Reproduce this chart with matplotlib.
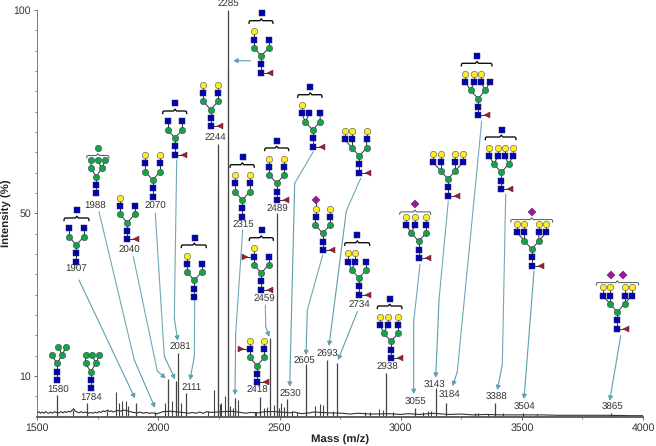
import matplotlib
matplotlib.use("Agg")
import matplotlib.pyplot as plt
from matplotlib.patches import FancyArrowPatch

plt.rcParams['font.family'] = ['Liberation Sans', 'DejaVu Sans']
plt.rcParams['text.hinting'] = 'none'

# labelled peaks
peak_mass = [1581, 1704, 1907, 1985, 2039, 2071, 2081, 2112, 2245, 2287, 2318, 2419, 2459, 2489,
             2531, 2607, 2695, 2736, 2941, 3057, 3145, 3186, 3391, 3504, 3866]
peak_int = [5.3, 3.3, 3.4, 1.2, 9.2, 8.7, 15.6, 5.8, 67, 100, 4.5, 4.7, 19.2, 50,
            4.3, 13, 13.8, 13.2, 10.6, 2.2, 7, 3.3, 3.4, 0.9, 0.9]

# isotope shoulders and the small unlabelled peaks
small_mass = [1648, 1786, 1823, 1837, 1849, 1865, 1874, 2026, 2056, 2093, 2204, 2230, 2246, 2253,
              2260, 2273, 2289, 2296, 2306, 2328, 2397, 2403, 2436, 2449, 2476, 2491, 2496, 2506,
              2520, 2551, 2571, 2647, 2667, 2680, 2719, 2852, 2873, 2909, 2925, 2967, 3091, 3112,
              3126, 3305, 3321, 3360, 3421, 3561]
small_int = [1.7, 1.4, 6.1, 3.3, 3.7, 3.8, 2.5, 3.4, 3.8, 3.4, 1.3, 6.5, 57, 3,
             3.3, 5.1, 86, 2.5, 2, 4, 1.2, 1.2, 2, 2.3, 2.8, 30, 2.2, 3.3,
             2.3, 1.3, 1.2, 2.5, 3, 2.8, 1.3, 1, 1, 1.8, 1.5, 1, 1.2, 1.3,
             1.4, 0.8, 0.8, 0.7, 0.9, 0.6]

# noisy baseline
base_mass = [1500, 1506, 1513, 1520, 1527, 1534, 1541, 1548, 1556, 1563, 1570, 1578, 1590, 1598,
             1606, 1613, 1621, 1629, 1637, 1644, 1650, 1657, 1665, 1673, 1681, 1690, 1698, 1712,
             1720, 1730, 1738, 1747, 1755, 1764, 1772, 1780, 1790, 1797, 1805, 1813, 1830, 1843,
             1856, 1870, 1885, 1895, 1915, 1925, 1938, 1950, 1962, 1975, 1995, 2010, 2020, 2050,
             2100, 2125, 2140, 2155, 2170, 2185, 2200, 2215, 2300, 2340, 2360, 2380, 2410, 2440,
             2480, 2545, 2560, 2590, 2625, 2640, 2700, 2760, 2790, 2820, 2880, 2950, 3000, 3030,
             3080, 3130, 3200, 3250, 3300, 3350, 3420, 3500, 3580, 3650, 3750, 3850, 3950, 4000]
base_int = [0.9, 1.2, 0.8, 1.1, 0.8, 1.2, 0.9, 0.8, 1.1, 0.8, 1.2, 1.0, 0.9, 1.2,
            0.9, 1.2, 1.0, 1.3, 1.1, 1.6, 1.9, 1.3, 1.1, 0.9, 1.2, 0.9, 1.1, 0.8,
            1.0, 0.8, 1.1, 0.9, 1.2, 1.0, 1.4, 1.2, 1.6, 1.2, 1.4, 1.1, 1.5, 1.3,
            1.6, 1.4, 1.2, 1.0, 0.9, 1.1, 0.8, 1.0, 0.8, 0.9, 0.7, 1.0, 1.2, 1.3,
            1.0, 0.8, 1.0, 0.8, 1.1, 0.8, 1.2, 1.0, 1.3, 1.0, 0.8, 1.0, 0.9, 1.2,
            1.2, 0.9, 1.1, 0.7, 0.9, 1.1, 0.9, 0.8, 0.6, 0.8, 0.6, 0.7, 0.5, 0.7,
            0.5, 0.8, 0.5, 0.6, 0.4, 0.5, 0.4, 0.4, 0.4, 0.3, 0.3, 0.3, 0.2, 0.2]

x_ticks = [1500, 2000, 2500, 3000, 3500, 4000]
y_ticks = [10, 50, 100]

# label text and where it sits in the picture
labels = [("1580", 58.3, 390.7), ("1784", 91, 398), ("1907", 76.3, 269.3), ("1988", 95.3, 206),
          ("2040", 129.3, 250.3), ("2070", 155, 206.3), ("2081", 180.3, 347.3), ("2111", 191.3, 387.7),
          ("2244", 215.7, 137), ("2285", 228, 4.7), ("2315", 243.3, 225), ("2418", 257.3, 390.3),
          ("2459", 264, 299.3), ("2489", 277.3, 209.3), ("2530", 290.7, 394), ("2605", 304.7, 361.3),
          ("2693", 327.5, 354.3), ("2734", 359.7, 305), ("2938", 387.3, 367.7), ("3055", 415, 402),
          ("3143", 434.7, 385.3), ("3184", 449.7, 395.7), ("3388", 496.3, 397.3), ("3504", 524, 407.7),
          ("3865", 612.3, 407.3)]

arrows = [[(79, 280), (135, 398.3)],
          [(99, 211.7), (134.3, 360), (155, 407.7)],
          [(133.3, 256.7), (157.3, 371), (165.7, 378.3)],
          [(155.3, 213.3), (164.3, 356), (175, 379.3)],
          [(176.7, 160), (174.3, 318.3), (177.7, 340.7)],
          [(194.7, 300), (194.3, 356.7), (190, 380)],
          [(250.7, 60.7), (233.3, 60.7)],
          [(242.7, 230), (235.7, 333.3), (235, 395)],
          [(265.3, 305), (265.7, 326.7), (269.3, 336.7)],
          [(313.3, 151.7), (294.7, 183.3), (289.7, 386.7)],
          [(322.7, 255), (307.3, 310), (306, 355)],
          [(360.7, 178.3), (346.3, 211), (329, 346)],
          [(357.3, 311.7), (338, 360)],
          [(420, 264.3), (413.7, 321.7), (413.7, 394)],
          [(448.3, 201), (439, 300), (435.7, 377.7)],
          [(481.7, 121), (457.3, 371.7), (452.7, 386)],
          [(505.7, 194), (502.3, 365), (497.3, 390)],
          [(534, 271), (524, 399)],
          [(620.7, 335.7), (609.7, 400.7)]]

STEP = 8.3
BLUE, GREEN, YELLOW, RED, PURPLE = '#0000b4', '#16a346', '#ffec1c', '#b5161e', '#a8119a'
STYLE = {'N': ('s', BLUE, 4.5), 'H': ('o', GREEN, 4.6), 'G': ('o', YELLOW, 4.6),
         'S': ('D', PURPLE, 4.0), 'F': ('<', RED, 4.8), 'f': ('>', RED, 4.8)}

fig = plt.figure(figsize=(6.56, 4.46), dpi=100)
ax = fig.add_axes([37.3 / 656, 1 - 416.5 / 446, (643 - 37.3) / 656, (416.5 - 10) / 446])
ax.vlines(peak_mass, 0, peak_int, color='#444444', lw=0.9)
ax.vlines(small_mass, 0, small_int, color='#444444', lw=0.8)
ax.plot(base_mass, base_int, color='#333333', lw=0.8)
ax.set_xlim(1500, 4000)
ax.set_ylim(0, 100)
ax.set_xticks(x_ticks)
ax.set_xticks([1750, 2250, 2750, 3250, 3750], minor=True)
ax.set_yticks(y_ticks)
ax.set_yticks([5, 15, 20, 25, 30, 35, 40, 45, 55, 60, 65, 70, 75, 80, 85, 90, 95], minor=True)
ax.tick_params(axis='both', which='major', labelsize=7.6, length=2.5, width=0.6, color='#555555',
               labelcolor='#333333', pad=2)
ax.tick_params(axis='both', which='minor', length=1.5, width=0.5, color='#555555')
for side in ['top', 'right']:
    ax.spines[side].set_visible(False)
ax.spines['left'].set_color('#666666')
ax.spines['left'].set_linewidth(0.6)
ax.spines['bottom'].set_color('#555555')
ax.spines['bottom'].set_linewidth(1.3)
ax.set_xlabel("Mass (m/z)", fontweight='bold', fontsize=8.2, color='#222222', labelpad=1.5)
ax.set_ylabel("Intensity (%)", fontweight='bold', fontsize=8.2, color='#222222', labelpad=1)

# overlay in picture pixels for the cartoons, arrows and peak labels
ov = fig.add_axes([0, 0, 1, 1])
ov.set_xlim(0, 656)
ov.set_ylim(446, 0)
ov.axis('off')
ov.patch.set_alpha(0)


def sym(kind, x, y):
    marker, color, size = STYLE[kind]
    ov.plot([x], [y], marker=marker, ms=size, mfc=color, mec='#333355', mew=0.35, zorder=5, ls='none')


def bond(x0, y0, x1, y1):
    ov.plot([x0, x1], [y0, y1], color='#333333', lw=0.7, zorder=4)


def bracket(x0, x1, xc, y, color, lw):
    ys = [y + 2.5, y + 0.6, y, y, y - 1.8, y, y, y + 0.6, y + 2.5]
    xs = [x0, x0 + 0.3, x0 + 1.2, xc - 1.5, xc, xc + 1.5, x1 - 1.2, x1 - 0.3, x1]
    ov.plot(xs, ys, color=color, lw=lw, zorder=4)


def glycan(cx, yb, branches, arm=7.3, fuc=False, left_fuc=False, top=None, brk=None, thin=False):
    # branches: (x offset from core, residues going outward)
    sym('N', cx, yb)
    sym('N', cx, yb - STEP)
    sym('H', cx, yb - 2 * STEP)
    bond(cx, yb, cx, yb - 2 * STEP)
    ya = yb - 3 * STEP
    for s in (-1, 1):
        sym('H', cx + s * arm, ya)
        bond(cx, yb - 2 * STEP, cx + s * arm, ya)
    if fuc:
        sym('F', cx + 9, yb)
        bond(cx, yb, cx + 9, yb)
    high = ya
    for dx, chain in branches:
        ax0 = cx + (arm if dx > 0 else -arm)
        x = cx + dx
        prev = (ax0, ya)
        for i, r in enumerate(chain):
            y = ya - (i + 1) * STEP
            sym(r, x, y)
            bond(prev[0], prev[1], x, y)
            prev = (x, y)
            high = min(high, y)
    if left_fuc:
        sym('f', cx - arm - 8.7, ya - STEP)
        bond(cx - arm - 8.7, ya - STEP, cx - arm, ya - STEP)
    if brk:
        if thin:
            yk = high - 4.6
            bracket(cx + brk[0], cx + brk[1], cx + brk[2], yk, '#555555', 0.7)
            ytop = yk - 7.5
        else:
            yk = high - 10.5
            bracket(cx + brk[0], cx + brk[1], cx + brk[2], yk, '#111111', 1.0)
            ytop = yk - 7.5
        for kind, dx in top:
            sym(kind, cx + dx, ytop)


bi = [(-7.3, 'NG'), (7.3, 'NG')]
bi_n = [(-7.3, 'N'), (7.3, 'N')]
hb = [(-7.3, 'NG'), (7.3, 'N')]
ntop = [('N', 0.3)]

glycan(57, 380, [(1.3, 'H'), (9, 'H')], arm=5.2)
glycan(90.7, 388.3, [(-5, 'H'), (1.3, 'H'), (8.6, 'H')], arm=5.2)
glycan(76.3, 261.7, bi_n, top=ntop, brk=(-12.3, 12.7, 0.5))
glycan(96.3, 193.3, [(-5.3, 'H'), (1.4, 'H'), (9, 'H')], arm=5.2, top=[('H', 1.4)], brk=(-9.6, 12.7, 1.4), thin=True)
glycan(127.3, 239.3, hb, fuc=True)
glycan(152.7, 196.7, bi)
glycan(175, 154.7, bi_n, fuc=True, top=ntop, brk=(-12.3, 11.7, 0))
glycan(194.3, 297, hb, top=ntop, brk=(-13, 12, 0))
glycan(210.7, 126.3, bi, fuc=True)
glycan(261.3, 72.7, hb, fuc=True, top=ntop, brk=(-12.3, 11.7, 0))
glycan(242.3, 216.7, bi, top=ntop, brk=(-12.3, 12, 0))
glycan(276.7, 200, bi, fuc=True, top=ntop, brk=(-12, 12, 0))
glycan(261.3, 289.7, hb, fuc=True, left_fuc=True, top=ntop, brk=(-12, 12, 0))
glycan(257, 382.3, bi, fuc=True, left_fuc=True)
glycan(312.7, 146.7, [(-11, 'NG'), (-3.4, 'N'), (7.6, 'N')], fuc=True, top=[('N', -2.4)], brk=(-15, 9.3, -2.4))
glycan(322.7, 250, [(-7, 'NGS'), (7.3, 'NG')], fuc=True)
glycan(359.3, 172.7, [(-14.6, 'NG'), (-7.3, 'NG'), (7.4, 'NG')], fuc=True)
glycan(359, 294.7, [(-11, 'NG'), (-3.7, 'NG'), (7.3, 'N')], fuc=True, top=[('N', -1.7)], brk=(-14.3, 10.7, -1.7))
glycan(391, 358, [(-11, 'NG'), (-3.3, 'NG'), (7.3, 'NG')], fuc=True, top=[('N', -1.3)], brk=(-13.7, 11, -1.3))
glycan(418.7, 258, [(-12.7, 'NG'), (-3.7, 'NG'), (7.3, 'NG')], fuc=True, top=[('S', -3.7)], brk=(-19, 12, -3.7), thin=True)
glycan(448, 195.7, [(-14.7, 'NG'), (-7.3, 'NG'), (7.3, 'NG'), (14.7, 'NG')], fuc=True)
glycan(478, 115.3, [(-12.7, 'NG'), (-4, 'NG'), (3, 'NG'), (12, 'N')], fuc=True, top=[('N', -1)], brk=(-16.7, 14, -1))
glycan(501.3, 189, [(-12.3, 'NG'), (-3.3, 'NG'), (3.4, 'NG'), (12, 'NG')], fuc=True, top=ntop, brk=(-16, 14.7, 0))
glycan(531.7, 265.7, [(-14.7, 'NG'), (-7.3, 'NG'), (7, 'NG'), (14.3, 'NG')], fuc=True, top=[('S', 0)], brk=(-21, 21, 0), thin=True)
glycan(617.3, 328.7, [(-14.6, 'NG'), (-7.3, 'NG'), (7.3, 'NG'), (14.7, 'NG')], fuc=True,
       top=[('S', -6), ('S', 6)], brk=(-21, 21.4, 0), thin=True)

for path in arrows:
    xs, ys = zip(*path)
    ov.plot(xs[:-1], ys[:-1], color='#6fa9b6', lw=0.8, zorder=3, solid_capstyle='round')
    ov.add_patch(FancyArrowPatch(path[-2], path[-1], arrowstyle='-|>,head_width=1.4,head_length=2.6',
                                 mutation_scale=1.0, color='#5f9fae', lw=0.8, shrinkA=0, shrinkB=0, zorder=3))

for text, x, y in labels:
    ov.text(x, y, text, ha='center', va='center', fontsize=7, color='#333333', zorder=6)

fig.savefig("out.png", dpi=100)
